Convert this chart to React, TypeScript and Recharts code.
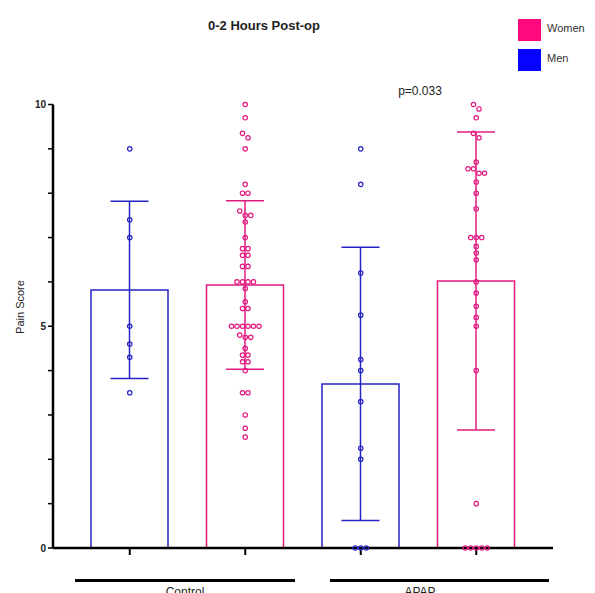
import { ComposedChart, Bar, ErrorBar, Scatter, XAxis, YAxis } from "recharts";

const CATEGORIES = ["Control-Men", "Control-Women", "APAP-Men", "APAP-Women"];
const GROUPS = ["Control", "APAP"];
const MEANS = [5.82, 5.93, 3.7, 6.02];
const SDS = [2.0, 1.9, 3.08, 3.36];
const Y_TICKS = [0, 1, 2, 3, 4, 5, 6, 7, 8, 9, 10];
const P_VALUE = "p=0.033";

const CONTROL_MEN = [9.0, 7.4, 7.0, 5.0, 4.6, 4.3, 3.5];
const CONTROL_WOMEN = [
  10, 9.7, 9.35, 9.25, 9.0, 8.2, 8.0, 8.0, 7.6, 7.5, 7.5, 7.35, 7.0, 6.75, 6.75,
  6.6, 6.6, 6.35, 6.35, 6.0, 6.0, 6.0, 6.0, 5.85, 5.55, 5.4, 5.4, 5.0, 5.0, 5.0,
  5.0, 5.0, 5.0, 4.8, 4.75, 4.75, 4.5, 4.35, 4.35, 4.2, 4.2, 4.0, 3.5, 3.5, 3.0,
  2.7, 2.5,
];
const APAP_MEN = [9.0, 8.2, 6.2, 5.25, 4.25, 4.0, 3.3, 2.25, 2.0, 0, 0, 0];
const APAP_WOMEN = [
  10.0, 9.9, 9.7, 9.35, 9.25, 8.7, 8.55, 8.55, 8.45, 8.45, 8.25, 8.0, 7.65, 7.0,
  7.0, 7.0, 6.8, 6.65, 6.5, 6.0, 5.75, 5.45, 5.2, 5.0, 4.0, 1.0, 0, 0, 0, 0, 0,
];

const MEN_COLOR = "#2424c4";
const WOMEN_COLOR = "#e21a80";
const FONT = "'Liberation Sans', Arial, sans-serif";

const rows = CATEGORIES.map((cat, i) => {
  const isMen = i % 2 === 0;
  return {
    cat,
    men: isMen ? MEANS[i] : null,
    menErr: isMen ? SDS[i] : null,
    women: isMen ? null : MEANS[i],
    womenErr: isMen ? null : SDS[i],
  };
});

// spread points with (nearly) equal values side by side
function layout(cat: string, values: number[]) {
  const sorted = [...values].sort((a, b) => b - a);
  const clusters: number[][] = [];
  sorted.forEach((v) => {
    const last = clusters[clusters.length - 1];
    if (last && Math.abs(last[0] - v) < 0.13) last.push(v);
    else clusters.push([v]);
  });
  return clusters.flatMap((c) =>
    c.map((v, rank) => ({ cat, v, rank, size: c.length }))
  );
}

const menPoints = [
  ...layout(CATEGORIES[0], CONTROL_MEN),
  ...layout(CATEGORIES[2], APAP_MEN),
];
const womenPoints = [
  ...layout(CATEGORIES[1], CONTROL_WOMEN),
  ...layout(CATEGORIES[3], APAP_WOMEN),
];

function dot(color: string) {
  return (props: any) => {
    const { cx, cy, payload } = props;
    const dx = (payload.rank - (payload.size - 1) / 2) * 5.5;
    return (
      <circle
        cx={cx + dx}
        cy={cy}
        r={2.2}
        fill="none"
        stroke={color}
        strokeWidth={1.2}
      />
    );
  };
}

export default function App() {
  return (
    <div
      style={{
        position: "absolute",
        left: 0,
        top: 0,
        width: 595,
        height: 593,
        background: "#fff",
        fontFamily: FONT,
        overflow: "hidden",
      }}
    >
      <ComposedChart
        width={595}
        height={593}
        data={rows}
        margin={{ top: 104.5, right: 42, bottom: 15, left: 13 }}
        barSize={77}
        barGap={-77}
        style={{ fontFamily: FONT }}
      >
        <XAxis
          dataKey="cat"
          allowDuplicatedCategory={false}
          padding={{ left: 19, right: 19 }}
          height={30}
          tickSize={7}
          tickFormatter={() => ""}
          axisLine={{ stroke: "#000", strokeWidth: 2.5 }}
          tickLine={{ stroke: "#000", strokeWidth: 2 }}
        />
        <YAxis
          domain={[0, 10]}
          ticks={Y_TICKS}
          interval={0}
          width={40}
          tickSize={5}
          tickFormatter={(v: number) => (v % 5 === 0 ? String(v) : "")}
          tick={{ fontSize: 10, fill: "#222", fontWeight: 700 }}
          axisLine={{ stroke: "#000", strokeWidth: 2.5 }}
          tickLine={{ stroke: "#000", strokeWidth: 1.5 }}
        />
        <Bar
          dataKey="men"
          fill="none"
          stroke={MEN_COLOR}
          strokeWidth={1.5}
          isAnimationActive={false}
        >
          <ErrorBar
            dataKey="menErr"
            width={19}
            stroke={MEN_COLOR}
            strokeWidth={1.5}
          />
        </Bar>
        <Bar
          dataKey="women"
          fill="none"
          stroke={WOMEN_COLOR}
          strokeWidth={1.5}
          isAnimationActive={false}
        >
          <ErrorBar
            dataKey="womenErr"
            width={19}
            stroke={WOMEN_COLOR}
            strokeWidth={1.5}
          />
        </Bar>
        <Scatter
          data={menPoints}
          dataKey="v"
          shape={dot(MEN_COLOR)}
          isAnimationActive={false}
        />
        <Scatter
          data={womenPoints}
          dataKey="v"
          shape={dot(WOMEN_COLOR)}
          isAnimationActive={false}
        />
      </ComposedChart>

      <div
        style={{
          position: "absolute",
          left: 164,
          width: 200,
          top: 18,
          textAlign: "center",
          fontSize: 13,
          fontWeight: 700,
          color: "#222",
        }}
      >
        0-2 Hours Post-op
      </div>

      {[
        { name: "Women", color: "#ff0a7c", top: 19 },
        { name: "Men", color: "#0505ff", top: 49 },
      ].map((item) => (
        <div key={item.name}>
          <div
            style={{
              position: "absolute",
              left: 518,
              top: item.top,
              width: 23,
              height: 22,
              background: item.color,
            }}
          />
          <div
            style={{
              position: "absolute",
              left: 547,
              top: item.top + 3,
              fontSize: 11,
              color: "#333",
            }}
          >
            {item.name}
          </div>
        </div>
      ))}

      <div
        style={{
          position: "absolute",
          left: 370,
          width: 100,
          top: 84,
          textAlign: "center",
          fontSize: 12,
          color: "#222",
        }}
      >
        {P_VALUE}
      </div>

      <div
        style={{
          position: "absolute",
          left: 20,
          top: 307,
          transform: "translate(-50%, -50%) rotate(-90deg)",
          fontSize: 11,
          color: "#222",
          whiteSpace: "nowrap",
        }}
      >
        Pain Score
      </div>

      {GROUPS.map((g, i) => (
        <div key={g}>
          <div
            style={{
              position: "absolute",
              left: i === 0 ? 75 : 330,
              width: i === 0 ? 220 : 219,
              top: 579,
              height: 2.5,
              background: "#000",
            }}
          />
          <div
            style={{
              position: "absolute",
              left: (i === 0 ? 185 : 420) - 50,
              width: 100,
              top: 585,
              textAlign: "center",
              fontSize: 12,
              color: "#222",
            }}
          >
            {g}
          </div>
        </div>
      ))}
    </div>
  );
}
